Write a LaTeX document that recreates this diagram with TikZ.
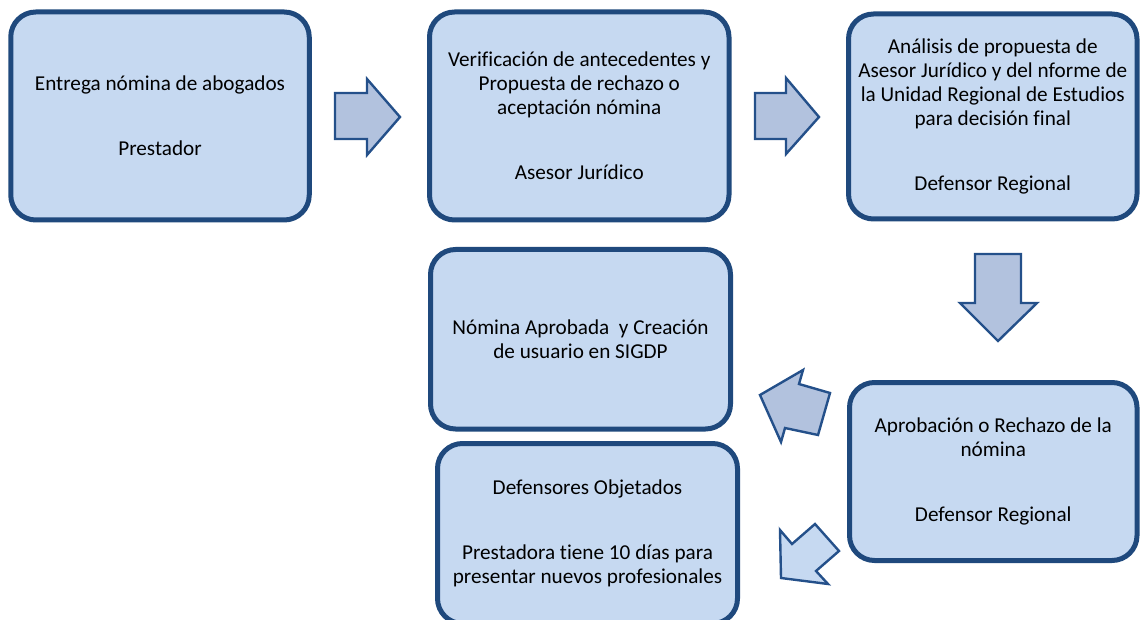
\documentclass[tikz,border=0pt]{standalone}
\usepackage{fontspec}
\setmainfont{Carlito}[Ligatures=NoCommon]
\definecolor{boxfill}{HTML}{C6D9F1}
\definecolor{boxline}{HTML}{1F497D}
\definecolor{arrfill}{HTML}{B2C2DE}
\definecolor{arrline}{HTML}{24508A}
\tikzset{
  stepbox/.style={draw=boxline, fill=boxfill, line width=5pt, rounded corners=25pt,
    align=center, inner sep=0pt, font=\fontsize{21.2}{24}\selectfont},
  blockarrow/.style={draw=arrline, fill=arrfill, line width=2.4pt, line join=miter},
  blockarrowlight/.style={blockarrow, fill=boxfill}
}
\begin{document}
\begin{tikzpicture}[x=1pt,y=-1pt]
\useasboundingbox (0,0) rectangle (1140,620);
\node[stepbox, minimum width=298.5pt, minimum height=208pt] (b1) at (160,116)
  {Entrega nómina de abogados\\[41pt]Prestador};
\node[stepbox, minimum width=299.5pt, minimum height=208pt] (b2) at (579.25,116)
  {Verificación de antecedentes y\\Propuesta de rechazo o\\aceptación nómina\\[41pt]Asesor Jurídico};
\node[stepbox, minimum width=288.5pt, minimum height=205pt] (b3) at (992.75,116.5)
  {Análisis de propuesta de\\Asesor Jurídico y del nforme de\\la Unidad Regional de Estudios\\para decisión final\\[41pt]Defensor Regional};
\node[stepbox, minimum width=300pt, minimum height=179.5pt] (b4) at (580.5,339.25)
  {Nómina Aprobada~ y Creación\\de usuario en SIGDP};
\node[stepbox, minimum width=287.5pt, minimum height=178pt] (b5) at (993.25,471.5)
  {Aprobación o Rechazo de la\\nómina\\[41pt]Defensor Regional};
\node[stepbox, minimum width=300pt, minimum height=180pt] (b6) at (587.5,533.5)
  {Defensores Objetados\\[41pt]Prestadora tiene 10 días para\\presentar nuevos profesionales};
% block arrows
\draw[blockarrow] (335,93) -- (367,93) -- (367,79) -- (400,117) -- (367,155) -- (367,139) -- (335,139) -- cycle;
\draw[blockarrow] (755,93) -- (786,93) -- (786,78) -- (819,117) -- (786,154) -- (786,139) -- (755,139) -- cycle;
\draw[blockarrow] (975,254) -- (1021,254) -- (1021,303) -- (1037,303) -- (998,341) -- (960,303) -- (975,303) -- cycle;
\draw[blockarrow] (760,395) -- (803,370) -- (799,384) -- (830,393) -- (818,435) -- (785,428) -- (781,442) -- cycle;
\draw[blockarrowlight] (781,578) -- (780,530) -- (792,544) -- (815,524) -- (839,551) -- (816,571) -- (828,584) -- cycle;
\end{tikzpicture}
\end{document}
